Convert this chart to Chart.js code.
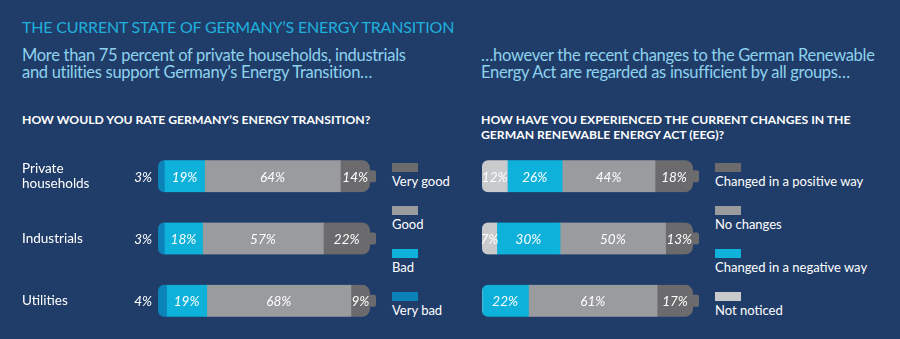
<!DOCTYPE html>
<html>
<head>
<meta charset="utf-8">
<script src="https://cdn.jsdelivr.net/npm/chart.js@4"></script>
<style>
  html, body { margin: 0; padding: 0; }
  body {
    width: 900px; height: 339px; overflow: hidden; position: relative;
    background: #203d69; font-family: Lato, "Open Sans", sans-serif; color: #fff;
  }
  .txt { position: absolute; white-space: nowrap; }
  .title { left: 22px; top: 17px; font-size: 16px; line-height: 20px; letter-spacing: -0.2px; color: #1fb0dc; }
  .sub { top: 47px; font-size: 16.5px; line-height: 17px; letter-spacing: -0.3px; color: #8ed2ee; }
  .head { top: 113px; font-size: 12.2px; line-height: 14.7px; font-weight: bold; color: #fff; }
  .legend { position: absolute; top: 163px; }
  .legend .item { height: 43px; }
  .legend .sw { width: 26px; height: 9px; }
  .legend .lab { font-size: 13px; line-height: 14px; margin-top: 2px; white-space: nowrap; }
  canvas { position: absolute; }
</style>
</head>
<body>
<div class="txt title">THE CURRENT STATE OF GERMANY’S ENERGY TRANSITION</div>
<div class="txt sub" style="left:22px">More than 75 percent of private households, industrials<br>and utilities support Germany’s Energy Transition…</div>
<div class="txt sub" style="left:481px">…however the recent changes to the German Renewable<br>Energy Act are regarded as insufficient by all groups…</div>
<div class="txt head" style="left:22px">HOW WOULD YOU RATE GERMANY’S ENERGY TRANSITION?</div>
<div class="txt head" style="left:481px">HOW HAVE YOU EXPERIENCED THE CURRENT CHANGES IN THE<br>GERMAN RENEWABLE ENERGY ACT (EEG)?</div>

<canvas id="rateChart" width="390" height="199" style="left:0; top:140px; width:390px; height:199px"></canvas>
<canvas id="eegChart" width="240" height="199" style="left:470px; top:140px; width:240px; height:199px"></canvas>
<div class="legend" id="rateLegend" style="left:392px"></div>
<div class="legend" id="eegLegend" style="left:715px"></div>

<script>
// Rating of the Energy Transition, percent per group
const groups = [['Private', 'households'], 'Industrials', 'Utilities'];
const rateVeryBad = [3, 3, 4];
const rateBad = [19, 18, 19];
const rateGood = [64, 57, 68];
const rateVeryGood = [14, 22, 9];

// Experience of the EEG changes, percent per group
const eegNotNoticed = [12, 7, 0];
const eegNegative = [26, 30, 22];
const eegNoChange = [44, 50, 61];
const eegPositive = [18, 13, 17];

const C_DARKBLUE = '#0b83b9';
const C_CYAN = '#0db1da';
const C_GREY = '#9a9b9f';
const C_DARKGREY = '#6b6b6e';
const C_LIGHTGREY = '#c9cacc';

// rounded bar ends, battery nub and the percentage labels
const batteryPlugin = {
  id: 'battery',
  beforeDatasetsDraw(chart) {
    const ctx = chart.ctx;
    const metas = chart.data.datasets.map((d, i) => chart.getDatasetMeta(i));
    ctx.save();
    ctx.beginPath();
    metas[0].data.forEach((el, j) => {
      const left = el.base;
      const right = metas[metas.length - 1].data[j].x;
      ctx.roundRect(left, el.y - el.height / 2, right - left, el.height, [6, 8, 8, 6]);
    });
    ctx.clip();
  },
  afterDatasetsDraw(chart) {
    const ctx = chart.ctx;
    ctx.restore();
    const ds = chart.data.datasets;
    const metas = ds.map((d, i) => chart.getDatasetMeta(i));
    const opts = chart.options.plugins.battery;

    // nub in the colour of the last segment
    metas[0].data.forEach((el, j) => {
      let last = ds.length - 1;
      while (last > 0 && !ds[last].data[j]) last--;
      const end = metas[last].data[j];
      ctx.fillStyle = ds[last].backgroundColor;
      ctx.beginPath();
      ctx.roundRect(end.x - 2, end.y - 6, 8, 12, 2);
      ctx.fill();
    });

    ctx.save();
    ctx.font = 'italic 13.5px Lato, sans-serif';
    ctx.fillStyle = '#ffffff';
    ctx.textBaseline = 'middle';
    metas.forEach((meta, i) => {
      meta.data.forEach((el, j) => {
        const v = ds[i].data[j];
        if (!v) return;
        if (i === 0 && opts.outsideFirst) {
          ctx.textAlign = 'right';
          ctx.fillText(v + '%', el.base - 6, el.y + 1);
        } else {
          ctx.textAlign = 'center';
          ctx.fillText(v + '%', (el.x + el.base) / 2, el.y + 1);
        }
      });
    });
    ctx.restore();
  }
};

function makeChart(id, datasets, showLabels, padding, outsideFirst) {
  return new Chart(document.getElementById(id), {
    type: 'bar',
    data: { labels: groups, datasets: datasets },
    plugins: [batteryPlugin],
    options: {
      indexAxis: 'y',
      responsive: false,
      animation: false,
      layout: { padding: padding },
      datasets: { bar: { barThickness: 32, borderWidth: 0 } },
      plugins: {
        legend: { display: false },
        tooltip: { enabled: false },
        battery: { outsideFirst: outsideFirst }
      },
      scales: {
        x: { stacked: true, min: 0, max: 100, display: false },
        y: {
          stacked: true,
          display: showLabels,
          grid: { display: false },
          border: { display: false },
          afterFit(scale) {
            // fixed label column; the two-line label must not shrink the rows
            scale.width = showLabels ? 136 : 0;
            scale.paddingTop = 0;
            scale.paddingBottom = 0;
          },
          ticks: {
            crossAlign: 'far',
            color: '#ffffff',
            font: { family: 'Lato', size: 13.5, lineHeight: 1.1 }
          }
        }
      }
    }
  });
}

const rateSets = [
  { label: 'Very bad', data: rateVeryBad, backgroundColor: C_DARKBLUE },
  { label: 'Bad', data: rateBad, backgroundColor: C_CYAN },
  { label: 'Good', data: rateGood, backgroundColor: C_GREY },
  { label: 'Very good', data: rateVeryGood, backgroundColor: C_DARKGREY }
];
const eegSets = [
  { label: 'Not noticed', data: eegNotNoticed, backgroundColor: C_LIGHTGREY },
  { label: 'Changed in a negative way', data: eegNegative, backgroundColor: C_CYAN },
  { label: 'No changes', data: eegNoChange, backgroundColor: C_GREY },
  { label: 'Changed in a positive way', data: eegPositive, backgroundColor: C_DARKGREY }
];

function buildLegend(id, sets) {
  const box = document.getElementById(id);
  sets.slice().reverse().forEach(s => {
    const item = document.createElement('div');
    item.className = 'item';
    item.innerHTML = '<div class="sw" style="background:' + s.backgroundColor + '"></div>' +
      '<div class="lab">' + s.label + '</div>';
    box.appendChild(item);
  });
}

document.fonts.load('13px Lato').then(() => document.fonts.load('italic 13px Lato')).then(() => {
  makeChart('rateChart', rateSets, true, { left: 22, right: 20, top: 5, bottom: 7 }, true);
  makeChart('eegChart', eegSets, false, { left: 12, right: 17, top: 5, bottom: 7 }, false);
  buildLegend('rateLegend', rateSets);
  buildLegend('eegLegend', eegSets);
});
</script>
</body>
</html>
